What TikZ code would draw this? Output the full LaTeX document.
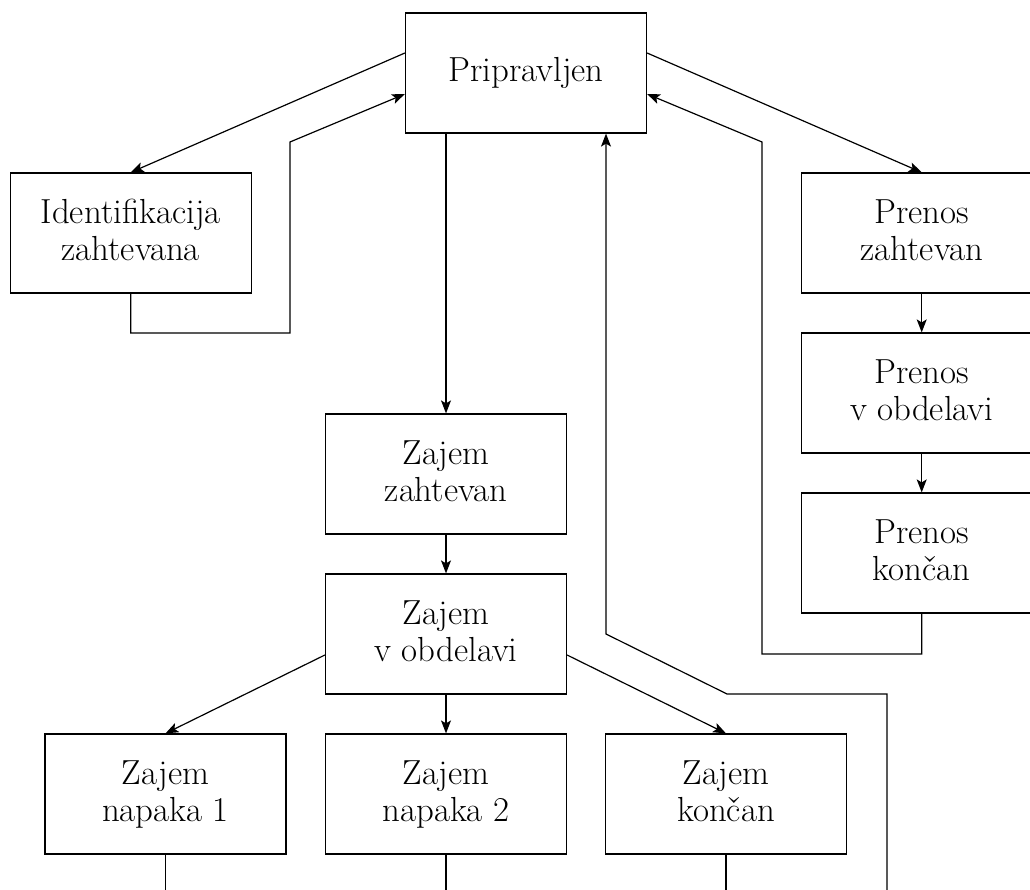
\documentclass[tikz,border=0pt]{standalone}
\usetikzlibrary{arrows.meta}
\newcommand\mystrut{\rule[-9.7pt]{0pt}{37.4pt}}
\newcommand\twolines[2]{\mystrut#1\\\mystrut#2}
\begin{document}
\begin{tikzpicture}[x=1pt,y=-1pt,
  box/.style={draw, line width=1.2pt, minimum width=241pt, minimum height=120pt, inner sep=0pt, align=center, font=\fontsize{34.8}{37.4}\selectfont},
  conn/.style={line width=1.2pt},
  arr/.style={conn,-{Stealth[length=13pt,width=10pt,inset=3pt]}}]
\useasboundingbox (0,0) rectangle (1030,890);
\node[box] (P) at (526,73) {\mystrut Pripravljen};
\node[box] (I) at (130.7,233) {\twolines{Identifikacija}{zahtevana}};
\node[box] (PZ) at (921.7,233) {\twolines{Prenos}{zahtevan}};
\node[box] (PO) at (921.7,393) {\twolines{Prenos}{v obdelavi}};
\node[box] (PK) at (921.7,553) {\twolines{Prenos}{kon\v{c}an}};
\node[box] (ZZ) at (446,474) {\twolines{Zajem}{zahtevan}};
\node[box] (ZO) at (446,634) {\twolines{Zajem}{v obdelavi}};
\node[box] (N1) at (165.5,794) {\twolines{Zajem}{napaka 1}};
\node[box] (N2) at (446,794) {\twolines{Zajem}{napaka 2}};
\node[box] (ZK) at (726,794) {\twolines{Zajem}{kon\v{c}an}};
\coordinate (l1) at (290,333);
\coordinate (l2) at (290,142);
\coordinate (r1) at (762,654);
\coordinate (r2) at (762,142);
\coordinate (b0) at (887,891);
\coordinate (b1) at (887,694);
\coordinate (b2) at (727,694);
\coordinate (b3) at (606,634);
\coordinate (e1) at (165.5,891);
\coordinate (e2) at (446,891);
\coordinate (e3) at (726,891);
\draw[arr] ([yshift=20pt]P.west) -- (I.north);
\draw[arr] (I.south) |- (l1) -- (l2) -- ([yshift=-21pt]P.west);
\draw[arr] ([yshift=20pt]P.east) -- (PZ.north);
\draw[arr] (PZ.south) -- (PO.north);
\draw[arr] (PO.south) -- (PK.north);
\draw[arr] (PK.south) |- (r1) -- (r2) -- ([yshift=-21pt]P.east);
\draw[arr] ([xshift=-80pt]P.south) -- (ZZ.north);
\draw[arr] (ZZ.south) -- (ZO.north);
\draw[arr] ([yshift=-21pt]ZO.west) -- (N1.north);
\draw[arr] (ZO.south) -- (N2.north);
\draw[arr] ([yshift=-21pt]ZO.east) -- (ZK.north);
\draw[conn] (N1.south) -- (e1);
\draw[conn] (N2.south) -- (e2);
\draw[conn] (ZK.south) -- (e3);
\draw[arr] (b0) -- (b1) -- (b2) -- (b3) -- ([xshift=80pt]P.south);
\end{tikzpicture}
\end{document}
